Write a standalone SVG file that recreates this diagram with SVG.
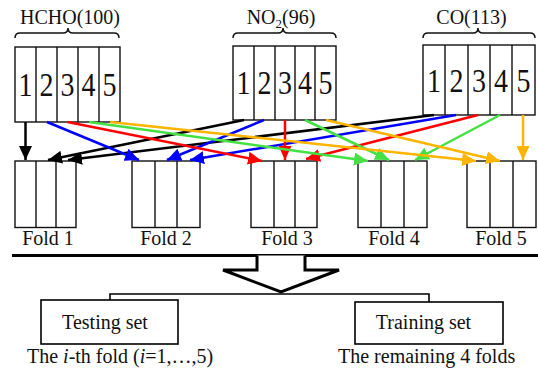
<svg xmlns="http://www.w3.org/2000/svg" width="538" height="372" viewBox="0 0 538 372">
<style>
.bx{fill:#fff;stroke:#111;stroke-width:1.4}
.dv{stroke:#111;stroke-width:1.4}
.br{fill:none;stroke:#111;stroke-width:1.5}
.t{font-family:"Liberation Serif","Times New Roman",serif;font-size:20px;fill:#111}
.d{font-family:"Liberation Serif","Times New Roman",serif;font-size:34px;fill:#111;text-anchor:middle}
.c{fill:none;stroke-width:2.5}
</style>
<defs>
<marker id="mk" markerUnits="userSpaceOnUse" markerWidth="14" markerHeight="13" refX="14" refY="6.5" orient="auto"><path d="M0,0 L14,6.5 L0,13 z" fill="#000"/></marker>
<marker id="mb" markerUnits="userSpaceOnUse" markerWidth="14" markerHeight="13" refX="14" refY="6.5" orient="auto"><path d="M0,0 L14,6.5 L0,13 z" fill="#0000ff"/></marker>
<marker id="mr" markerUnits="userSpaceOnUse" markerWidth="14" markerHeight="13" refX="14" refY="6.5" orient="auto"><path d="M0,0 L14,6.5 L0,13 z" fill="#ff0000"/></marker>
<marker id="mg" markerUnits="userSpaceOnUse" markerWidth="14" markerHeight="13" refX="14" refY="6.5" orient="auto"><path d="M0,0 L14,6.5 L0,13 z" fill="#44e044"/></marker>
<marker id="mo" markerUnits="userSpaceOnUse" markerWidth="14" markerHeight="13" refX="14" refY="6.5" orient="auto"><path d="M0,0 L14,6.5 L0,13 z" fill="#ffb400"/></marker>
</defs>
<rect width="538" height="372" fill="#fff"/>

<g id="hcho">
<text class="t" x="70" y="24" text-anchor="middle">HCHO(100)</text>
<path class="br" d="M15,38 Q15,33 20,33 L63,33 Q68,33 68,28 Q68,33 73,33 L114,33 Q119,33 119,38"/>
<rect class="bx" x="15" y="47" width="105" height="75"/>
<path class="dv" d="M36,47V122M57,47V122M78,47V122M99,47V122"/>
<text class="d" x="25.5" y="96" textLength="14" lengthAdjust="spacingAndGlyphs">1</text>
<text class="d" x="46.5" y="96" textLength="14" lengthAdjust="spacingAndGlyphs">2</text>
<text class="d" x="67.5" y="96" textLength="14" lengthAdjust="spacingAndGlyphs">3</text>
<text class="d" x="88.5" y="96" textLength="14" lengthAdjust="spacingAndGlyphs">4</text>
<text class="d" x="109.5" y="96" textLength="14" lengthAdjust="spacingAndGlyphs">5</text>
</g>

<g id="no2">
<text class="t" x="281" y="24" text-anchor="middle">NO<tspan font-size="13" dy="4">2</tspan><tspan dy="-4">(96)</tspan></text>
<path class="br" d="M233,38 Q233,33 238,33 L278,33 Q283,33 283,28 Q283,33 288,33 L331,33 Q336,33 336,38"/>
<rect class="bx" x="233" y="46" width="103" height="74"/>
<path class="dv" d="M254,46V120M275,46V120M295,46V120M315,46V120"/>
<text class="d" x="243.5" y="94" textLength="14" lengthAdjust="spacingAndGlyphs">1</text>
<text class="d" x="264.5" y="94" textLength="14" lengthAdjust="spacingAndGlyphs">2</text>
<text class="d" x="285" y="94" textLength="14" lengthAdjust="spacingAndGlyphs">3</text>
<text class="d" x="305" y="94" textLength="14" lengthAdjust="spacingAndGlyphs">4</text>
<text class="d" x="325.5" y="94" textLength="14" lengthAdjust="spacingAndGlyphs">5</text>
</g>

<g id="co">
<text class="t" x="471.5" y="24" text-anchor="middle">CO(113)</text>
<path class="br" d="M423,38 Q423,33 428,33 L473,33 Q478,33 478,28 Q478,33 483,33 L530,33 Q535,33 535,38"/>
<rect class="bx" x="423" y="45" width="112" height="70"/>
<path class="dv" d="M445,45V115M468,45V115M490,45V115M512,45V115"/>
<text class="d" x="434" y="92" textLength="14" lengthAdjust="spacingAndGlyphs">1</text>
<text class="d" x="456.5" y="92" textLength="14" lengthAdjust="spacingAndGlyphs">2</text>
<text class="d" x="479" y="92" textLength="14" lengthAdjust="spacingAndGlyphs">3</text>
<text class="d" x="501" y="92" textLength="14" lengthAdjust="spacingAndGlyphs">4</text>
<text class="d" x="523.5" y="92" textLength="14" lengthAdjust="spacingAndGlyphs">5</text>
</g>

<g id="fold1">
<rect class="bx" x="15" y="161" width="61" height="66.5"/>
<path class="dv" d="M36,161V227.5M56,161V227.5"/>
<text class="t" x="48" y="245" text-anchor="middle">Fold 1</text>
</g>
<g id="fold2">
<rect class="bx" x="132" y="161" width="68" height="66.5"/>
<path class="dv" d="M155,161V227.5M177,161V227.5"/>
<text class="t" x="166" y="245" text-anchor="middle">Fold 2</text>
</g>
<g id="fold3">
<rect class="bx" x="251" y="161" width="66" height="66.5"/>
<path class="dv" d="M274,161V227.5M295,161V227.5"/>
<text class="t" x="287" y="245" text-anchor="middle">Fold 3</text>
</g>
<g id="fold4">
<rect class="bx" x="358" y="161" width="69" height="66.5"/>
<path class="dv" d="M381,161V227.5M404,161V227.5"/>
<text class="t" x="394" y="245" text-anchor="middle">Fold 4</text>
</g>
<g id="fold5">
<rect class="bx" x="467" y="161" width="69" height="66.5"/>
<path class="dv" d="M490,161V227.5M513,161V227.5"/>
<text class="t" x="501" y="245" text-anchor="middle">Fold 5</text>
</g>

<g id="connectors">
<line class="c" stroke="#000" x1="25.5" y1="122" x2="25.5" y2="160" marker-end="url(#mk)"/>
<line class="c" stroke="#000" x1="244" y1="120" x2="48" y2="160" marker-end="url(#mk)"/>
<line class="c" stroke="#000" x1="434" y1="115" x2="68" y2="160" marker-end="url(#mk)"/>
<line class="c" stroke="#0000ff" x1="47" y1="122" x2="139" y2="160" marker-end="url(#mb)"/>
<line class="c" stroke="#0000ff" x1="264" y1="120" x2="167" y2="160" marker-end="url(#mb)"/>
<line class="c" stroke="#0000ff" x1="456" y1="115" x2="190" y2="160" marker-end="url(#mb)"/>
<line class="c" stroke="#ff0000" x1="67.5" y1="122" x2="262" y2="161" marker-end="url(#mr)"/>
<line class="c" stroke="#ff0000" x1="285" y1="120" x2="285" y2="160" marker-end="url(#mr)"/>
<line class="c" stroke="#ff0000" x1="478" y1="115" x2="306" y2="159" marker-end="url(#mr)"/>
<line class="c" stroke="#44e044" x1="89" y1="122" x2="368" y2="161" marker-end="url(#mg)"/>
<line class="c" stroke="#44e044" x1="305" y1="120" x2="389" y2="160" marker-end="url(#mg)"/>
<line class="c" stroke="#44e044" x1="500" y1="115" x2="415" y2="160" marker-end="url(#mg)"/>
<line class="c" stroke="#ffb400" x1="110" y1="122" x2="476" y2="161" marker-end="url(#mo)"/>
<line class="c" stroke="#ffb400" x1="326" y1="120" x2="500" y2="161" marker-end="url(#mo)"/>
<line class="c" stroke="#ffb400" x1="523" y1="115" x2="523" y2="160" marker-end="url(#mo)"/>
</g>

<g id="split">
<line x1="12" y1="255.5" x2="538" y2="255.5" stroke="#000" stroke-width="3.2"/>
<path d="M257,255.5 V270 H223 L281,292 L339,270 H305 V255.5" fill="#fff" stroke="#000" stroke-width="3"/>
<path d="M110,300 V294 H429 V302" fill="none" stroke="#000" stroke-width="1.6"/>
</g>

<g id="testing">
<rect x="41" y="300" width="137" height="44" fill="#fff" stroke="#000" stroke-width="1.6"/>
<text class="t" x="105" y="329" text-anchor="middle">Testing set</text>
<text class="t" x="27" y="363">The <tspan font-style="italic">i</tspan>-th fold (<tspan font-style="italic">i</tspan>=1,…,5)</text>
</g>
<g id="training">
<rect x="355" y="302" width="148" height="42" fill="#fff" stroke="#000" stroke-width="1.6"/>
<text class="t" x="423.5" y="329" text-anchor="middle">Training set</text>
<text class="t" x="338" y="363">The remaining 4 folds</text>
</g>
</svg>
